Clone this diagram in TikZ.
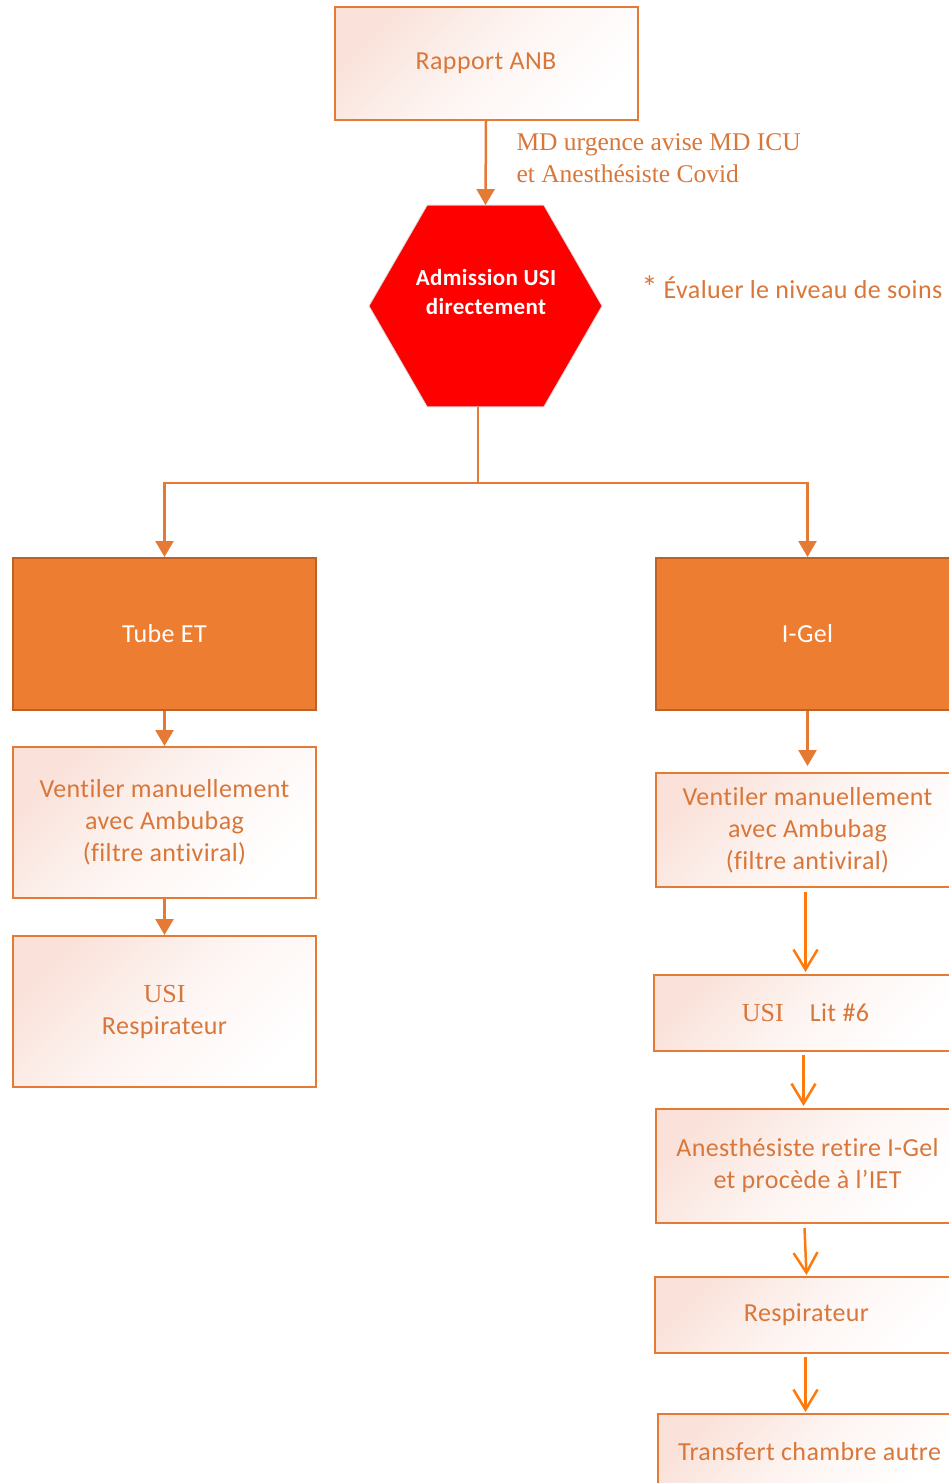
\documentclass[tikz,border=0pt]{standalone}
\usepackage{fontspec}
\setmainfont{Carlito}[RawFeature=-liga,LetterSpace=1.5]
\newfontfamily\serifont{Liberation Serif}
\usetikzlibrary{arrows.meta,shapes.geometric,calc}
\definecolor{bord}{HTML}{E57A35}
\definecolor{txt}{HTML}{D9773A}
\definecolor{pinkA}{HTML}{FAE2DA}
\definecolor{fillO}{HTML}{ED7D31}
\definecolor{bordD}{HTML}{BC6229}
\definecolor{vivid}{HTML}{FF7A0C}
\definecolor{hexred}{HTML}{FF0000}
\begin{document}
\begin{tikzpicture}[x=1pt,y=-1pt,
 box/.style={draw=bord,line width=2pt,top color=pinkA,bottom color=white,middle color=pinkA!35!white,shading angle=45,minimum width=303pt,inner sep=0pt,align=center,text=txt,font=\fontsize{26}{32}\selectfont},
 obox/.style={draw=bordD,line width=2pt,fill=fillO,minimum width=303pt,minimum height=152pt,text=white,font=\fontsize{26}{32}\selectfont},
 arr/.style={draw=bord,line width=2.5pt,-{Triangle[width=18pt,length=16pt]}},
 openarr/.style={draw=vivid,line width=2.5pt,-{Straight Barb[width=24pt,length=20pt]}},
 ]
\clip (0,0) rectangle (949,1483);
\fill[white] (0,0) rectangle (949,1483);

\node[box,minimum height=113pt] (rap) at (486,63.5) {Rapport ANB};
\node[regular polygon,regular polygon sides=6,minimum size=233pt,inner sep=0pt,outer sep=0pt,fill=hexred,draw=white!85!black,line width=0.8pt] (hex) at (485.5,306) {};
\node[font=\bfseries\fontsize{23}{29}\selectfont,text=white,align=center] (hext) at (486,292) {Admission USI\\directement};
\node[font=\serifont\fontsize{25.5}{32}\selectfont,text=txt,align=left,anchor=west] (md) at (513,158) {MD urgence avise MD ICU\\et Anesthésiste Covid};
\node[font=\fontsize{26}{32}\selectfont,text=txt,anchor=west] (eval) at (638,287) {{\fontsize{32}{32}\selectfont *} Évaluer le niveau de soins};

\node[obox] (tube) at (164.5,634) {Tube ET};
\node[obox] (igel) at (807.5,634) {I-Gel};
\node[box,minimum height=151pt] (lv) at (164.5,822.5) {Ventiler manuellement\\avec Ambubag\\(filtre antiviral)};
\node[box,minimum height=151pt] (lu) at (164.5,1011.5) {{\serifont USI}\\Respirateur};
\node[box,minimum height=114pt] (rv) at (807.5,830) {Ventiler manuellement\\avec Ambubag\\(filtre antiviral)};
\node[box,minimum height=76pt] (lit) at (805.5,1013) {{\serifont USI}\quad Lit \#6};
\node[box,minimum height=114pt] (an) at (807.5,1166) {Anesthésiste retire I-Gel\\et procède à l’IET};
\node[box,minimum height=76pt] (re) at (806.5,1315) {Respirateur};
\node[box,minimum height=76pt] (tr) at (809.5,1452) {Transfert chambre autre};

\draw[arr] (rap.south) -- (hex.north);
\coordinate (split) at (478,483);
\draw[bord,line width=2.5pt] (hex.south -| split) -- (split);
\draw[arr] (split) -| (tube.north);
\draw[arr] (split) -| (igel.north);
\draw[arr] (tube.south) -- (lv.north);
\draw[arr] (lv.south) -- (lu.north);
\draw[arr] (igel.south) -- ($(rv.north)+(0,-6)$);
\draw[openarr] ($(rv.south -| lit.north)+(0,4)$) -- ($(lit.north)+(0,-2)$);
\draw[openarr] ($(lit.south)+(-2,3)$) -- ($(lit.south |- an.north)+(-2,-2)$);
\draw[openarr] ($(an.south)+(-3,4)$) -- ($(re.north)+(0,-1)$);
\draw[openarr] ($(re.south)+(-1,3)$) -- ($(re.south |- tr.north)+(-1,-1)$);
\end{tikzpicture}
\end{document}
